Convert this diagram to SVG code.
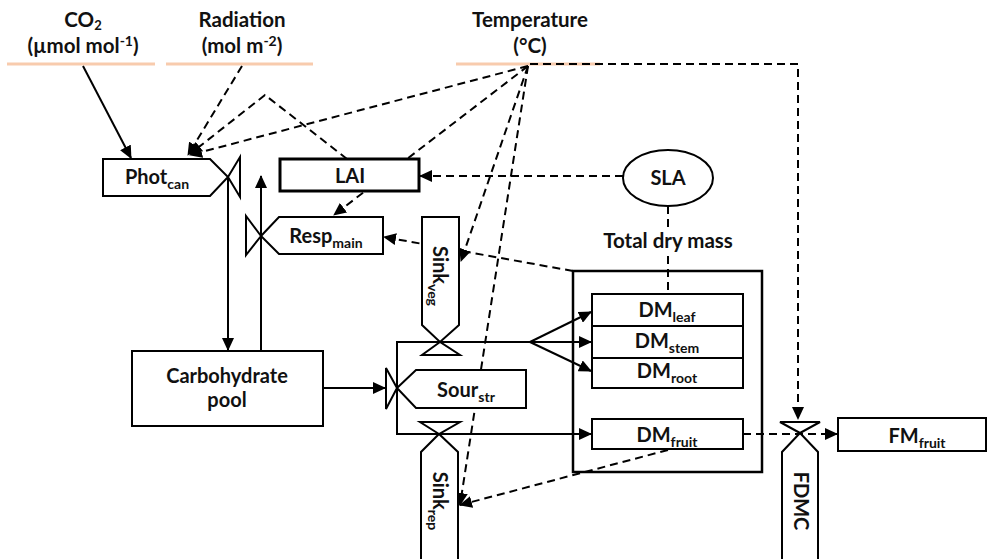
<svg xmlns="http://www.w3.org/2000/svg" width="989" height="559" viewBox="0 0 989 559">
<defs>
<marker id="ah" markerWidth="14" markerHeight="12" refX="12" refY="6" orient="auto" markerUnits="userSpaceOnUse"><path d="M0,0 L13,6 L0,12 Z" fill="#000"/></marker>
<style>
text{font-family:Lato,"Open Sans","Liberation Sans",sans-serif;font-weight:bold;fill:#111;font-size:20px;text-anchor:middle}
.hdr{font-size:20.5px}
.sub{font-size:14px}
.node{fill:#fff;stroke:#000;stroke-width:2}
.valve{fill:#fff;stroke:#000;stroke-width:2;stroke-linejoin:miter}
.solid{fill:none;stroke:#000;stroke-width:2}
.dash{fill:none;stroke:#000;stroke-width:2;stroke-dasharray:8 5}
.env{stroke:#F8CBAD;stroke-width:3}
</style>
</defs>
<rect width="989" height="559" fill="#fff"/>

<g id="inputs">
<g id="co2">
<text class="hdr" x="83" y="27">CO<tspan font-size="13" dy="3">2</tspan></text>
<text class="hdr" x="83" y="53">(µmol mol<tspan class="sub" dy="-7">-1</tspan><tspan dy="7">)</tspan></text>
<line class="env" x1="7" y1="64" x2="155" y2="64"/>
</g>
<g id="radiation">
<text class="hdr" x="242" y="27">Radiation</text>
<text class="hdr" x="242" y="53">(mol m<tspan class="sub" dy="-7">-2</tspan><tspan dy="7">)</tspan></text>
<line class="env" x1="166" y1="64" x2="313" y2="64"/>
</g>
<g id="temperature">
<text class="hdr" x="530" y="27">Temperature</text>
<text class="hdr" x="530" y="53">(°C)</text>
<line class="env" x1="456" y1="64" x2="600" y2="64"/>
</g>
</g>

<g id="connectors">
<line class="solid" x1="83" y1="66" x2="131" y2="158" marker-end="url(#ah)"/>
<line class="solid" x1="228" y1="177" x2="228" y2="350" marker-end="url(#ah)"/>
<line class="solid" x1="261" y1="351" x2="261" y2="176" marker-end="url(#ah)"/>
<line class="solid" x1="323" y1="388" x2="385" y2="388" marker-end="url(#ah)"/>
<path class="solid" d="M530,342 H397 V434 H591" marker-end="url(#ah)"/>
<line class="solid" x1="530" y1="342" x2="591" y2="312" marker-end="url(#ah)"/>
<line class="solid" x1="530" y1="342" x2="591" y2="342" marker-end="url(#ah)"/>
<line class="solid" x1="530" y1="342" x2="591" y2="371" marker-end="url(#ah)"/>

<line class="dash" x1="242" y1="66" x2="188" y2="155" marker-end="url(#ah)"/>
<line class="dash" x1="528" y1="66" x2="190" y2="155" marker-end="url(#ah)"/>
<path class="dash" d="M347,159 L265,95 L190,154" marker-end="url(#ah)"/>
<line class="dash" x1="528" y1="66" x2="334" y2="215" marker-end="url(#ah)"/>
<line class="dash" x1="623" y1="176" x2="420" y2="176" marker-end="url(#ah)"/>
<line class="dash" x1="668" y1="206" x2="668" y2="228"/>
<line class="dash" x1="668" y1="256" x2="668" y2="294"/>
<line class="dash" x1="573" y1="271" x2="384" y2="237" marker-end="url(#ah)"/>
<line class="dash" x1="528" y1="66" x2="461" y2="261" marker-end="url(#ah)"/>
<line class="dash" x1="528" y1="66" x2="460" y2="505" marker-end="url(#ah)"/>
<line class="dash" x1="668" y1="450" x2="460" y2="505" marker-end="url(#ah)"/>
<line class="dash" x1="743" y1="434" x2="837" y2="434" marker-end="url(#ah)"/>
<path class="dash" d="M530,64 H798 V419" marker-end="url(#ah)"/>
</g>

<g id="phot_can">
<polygon class="node" points="103,159 210,159 228,177 210,196 103,196"/>
<polygon class="valve" points="228,177 240,157 240,197"/>
<text x="157" y="184">Phot<tspan class="sub" dy="5">can</tspan></text>
</g>

<g id="lai">
<rect x="280" y="159" width="139" height="32" fill="#fff" stroke="#000" stroke-width="3"/>
<text x="350" y="183">LAI</text>
</g>

<g id="resp_main">
<polygon class="node" points="261,236 279,217 383,217 383,254 279,254"/>
<polygon class="valve" points="261,236 246,216 246,255"/>
<text x="326" y="243">Resp<tspan class="sub" dy="5">main</tspan></text>
</g>

<g id="sla">
<ellipse class="node" cx="668" cy="178" rx="45" ry="28"/>
<text x="668" y="185">SLA</text>
</g>

<g id="sink_veg">
<polygon class="node" points="422,217 459,217 459,325 440,342 422,325"/>
<polygon class="valve" points="440,342 422,355 460,355"/>
<text transform="translate(433,276) rotate(90)">Sink<tspan class="sub" dy="5">veg</tspan></text>
</g>

<g id="carbohydrate_pool">
<rect class="node" x="132" y="351" width="191" height="75"/>
<text x="227" y="383">Carbohydrate</text>
<text x="227" y="407">pool</text>
</g>

<g id="sour_str">
<polygon class="node" points="397,388 416,370 526,370 526,408 416,408"/>
<polygon class="valve" points="397,388 386,368 386,409"/>
<text x="466" y="397">Sour<tspan class="sub" dy="5">str</tspan></text>
</g>

<g id="sink_rep">
<path class="node" d="M421,562 V452 L439,434 L458,452 V562"/>
<polygon class="valve" points="439,434 420,422 460,422"/>
<text transform="translate(433,501) rotate(90)">Sink<tspan class="sub" dy="5">rep</tspan></text>
</g>

<g id="total_dry_mass">
<text class="hdr" x="668" y="248">Total dry mass</text>
<rect x="573" y="271" width="189" height="201" fill="none" stroke="#000" stroke-width="2.5"/>
</g>

<g id="dm_leaf">
<rect class="node" x="592" y="294" width="151" height="32"/>
<text x="667" y="317">DM<tspan class="sub" dy="5">leaf</tspan></text>
</g>
<g id="dm_stem">
<rect class="node" x="592" y="326" width="151" height="32"/>
<text x="667" y="348">DM<tspan class="sub" dy="5">stem</tspan></text>
</g>
<g id="dm_root">
<rect class="node" x="592" y="358" width="151" height="30"/>
<text x="667" y="378">DM<tspan class="sub" dy="5">root</tspan></text>
</g>
<g id="dm_fruit">
<rect class="node" x="592" y="419" width="151" height="30"/>
<text x="667" y="442">DM<tspan class="sub" dy="5">fruit</tspan></text>
</g>

<g id="fdmc">
<path class="node" d="M782,562 V452 L800,433 L818,452 V562"/>
<polygon class="valve" points="800,433 780,422 820,422"/>
<text transform="translate(794,501) rotate(90)">FDMC</text>
</g>

<g id="fm_fruit">
<rect class="node" x="838" y="418" width="148" height="33"/>
<text x="917" y="443">FM<tspan class="sub" dy="5">fruit</tspan></text>
</g>
</svg>
